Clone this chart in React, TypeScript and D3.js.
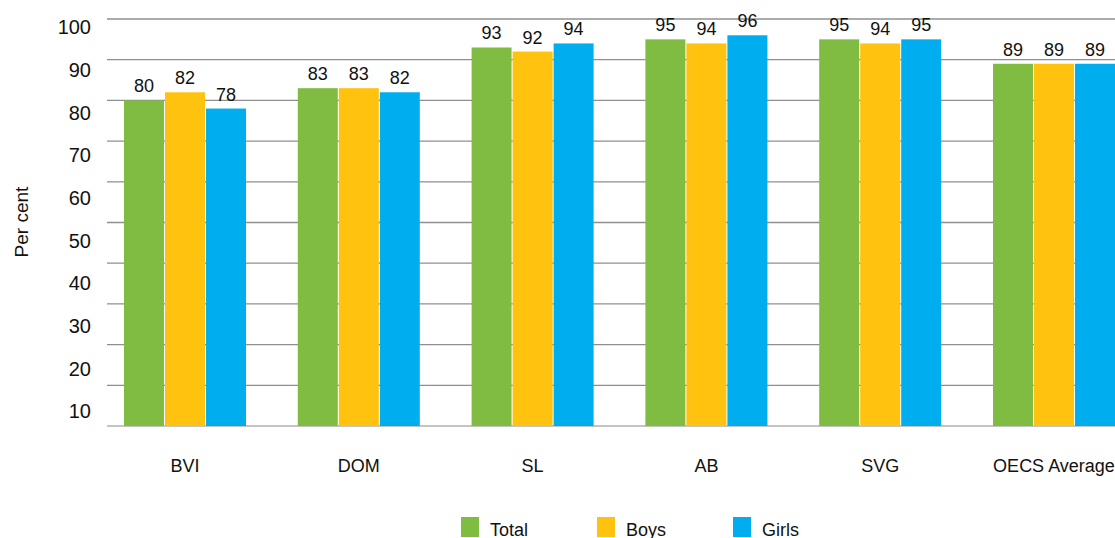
import React from "react";
import * as d3 from "d3";

// Share of students (per cent) by territory, split by sex
const categories = ["BVI", "DOM", "SL", "AB", "SVG", "OECS Average"];
const seriesNames = ["Total", "Boys", "Girls"];
const totalValues = [80, 83, 93, 95, 95, 89];
const boysValues = [82, 83, 92, 94, 94, 89];
const girlsValues = [78, 82, 94, 96, 95, 89];
const gridValues = [0, 10, 20, 30, 40, 50, 60, 70, 80, 90, 100];
const tickLabels = [10, 20, 30, 40, 50, 60, 70, 80, 90, 100];
const seriesColors = ["#80BC42", "#FFC20E", "#00AEEF"];

const WIDTH = 1115;
const HEIGHT = 538;
const FONT = "'Liberation Sans', Arial, Helvetica, sans-serif";

export default function App() {
  const seriesValues = [totalValues, boysValues, girlsValues];

  const y = d3.scaleLinear().domain([0, 100]).range([426, 19]);
  // tick text sits on its own slightly wider ladder
  const yText = d3.scaleLinear().domain([10, 100]).range([418.3, 34.3]);

  const x0 = d3
    .scaleBand<string>()
    .domain(categories)
    .range([124, 1115])
    .paddingInner(0.298)
    .paddingOuter(0);

  const x1 = d3
    .scaleBand<string>()
    .domain(seriesNames)
    .range([0, x0.bandwidth()])
    .paddingInner(0.025);

  const legendX = d3
    .scalePoint<string>()
    .domain(seriesNames)
    .range([461, 733]);

  return (
    <svg
      width={WIDTH}
      height={HEIGHT}
      style={{ position: "absolute", left: 0, top: 0, display: "block" }}
      fontFamily={FONT}
    >
      <rect x={0} y={0} width={WIDTH} height={HEIGHT} fill="#ffffff" />

      {/* horizontal gridlines */}
      {gridValues.map((v) => (
        <line
          key={"g" + v}
          x1={107}
          x2={WIDTH}
          y1={y(v)}
          y2={y(v)}
          stroke={v === 0 ? "#c4c4c4" : "#8f8f8f"}
          strokeWidth={v === 0 ? 2 : 1.3}
        />
      ))}

      {/* y tick labels */}
      {tickLabels.map((v) => (
        <text
          key={"t" + v}
          x={91}
          y={yText(v)}
          textAnchor="end"
          fontSize={20}
          fill="#111"
        >
          {v}
        </text>
      ))}

      {/* y axis title */}
      <text
        transform={`translate(28, 222) rotate(-90)`}
        textAnchor="middle"
        fontSize={19}
        fill="#111"
      >
        Per cent
      </text>

      {/* bars and value labels */}
      {categories.map((cat, ci) => (
        <g key={cat} transform={`translate(${x0(cat)},0)`}>
          {seriesNames.map((s, si) => {
            const v = seriesValues[si][ci];
            const bx = x1(s) as number;
            return (
              <g key={s}>
                <rect
                  x={bx}
                  y={y(v)}
                  width={x1.bandwidth()}
                  height={y(0) - y(v)}
                  fill={seriesColors[si]}
                />
                <text
                  x={bx + x1.bandwidth() / 2}
                  y={y(v) - 8}
                  textAnchor="middle"
                  fontSize={18}
                  fill="#111"
                >
                  {v}
                </text>
              </g>
            );
          })}
          <text
            x={x0.bandwidth() / 2}
            y={471.7}
            textAnchor="middle"
            fontSize={18}
            fill="#111"
          >
            {cat}
          </text>
        </g>
      ))}

      {/* legend */}
      {seriesNames.map((s, si) => {
        const lx = legendX(s) as number;
        return (
          <g key={"l" + s}>
            <rect x={lx} y={517} width={18} height={20} fill={seriesColors[si]} />
            <text x={lx + 29} y={535.5} fontSize={18} fill="#111">
              {s}
            </text>
          </g>
        );
      })}
    </svg>
  );
}
